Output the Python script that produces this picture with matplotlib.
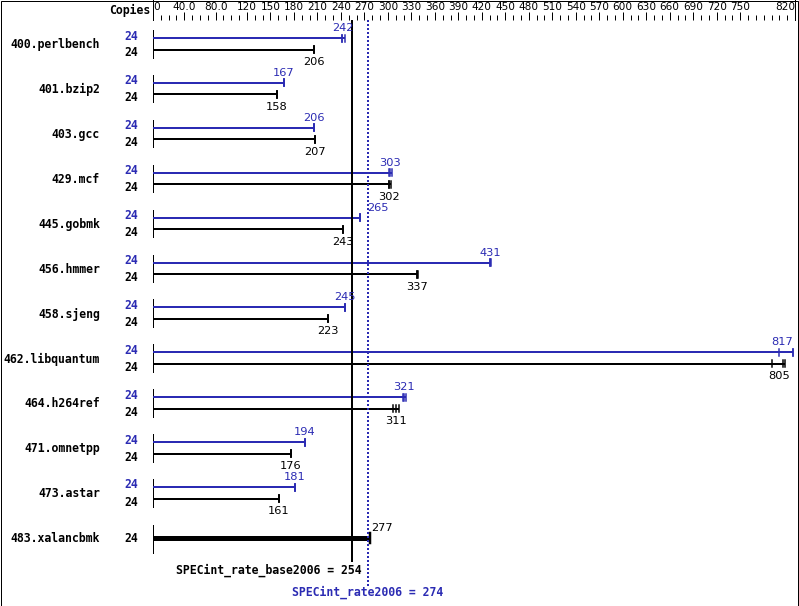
import matplotlib
matplotlib.use('Agg')
import matplotlib.pyplot as plt
from matplotlib.patches import Rectangle
from matplotlib.transforms import blended_transform_factory

# benchmark data (SPECint_rate2006, 24 copies)
benchmarks = ['400.perlbench', '401.bzip2', '403.gcc', '429.mcf', '445.gobmk', '456.hmmer',
              '458.sjeng', '462.libquantum', '464.h264ref', '471.omnetpp', '473.astar',
              '483.xalancbmk']
copies = [24, 24, 24, 24, 24, 24, 24, 24, 24, 24, 24, 24]
peak = [242, 167, 206, 303, 265, 431, 245, 817, 321, 194, 181, None]
base = [206, 158, 207, 302, 243, 337, 223, 805, 311, 176, 161, 277]
# individual runs (ticks on the bars)
peak_runs = [[242, 242, 245], [167, 167, 167], [206, 206, 206], [301, 303, 305],
             [265, 265, 265], [430, 431, 432], [245, 245, 245], [800, 817, 818],
             [319, 321, 323], [194, 194, 194], [181, 181, 181], None]
base_runs = [[206, 206, 206], [158, 158, 158], [207, 207, 207], [301, 302, 304],
             [243, 243, 243], [337, 337, 339], [223, 223, 223], [790, 805, 807],
             [307, 311, 314], [176, 176, 176], [161, 161, 161], [277, 277, 277]]
base_mean = 254
peak_mean = 274

tick_vals = [0, 40, 80, 120, 150, 180, 210, 240, 270, 300, 330, 360, 390, 420, 450, 480,
             510, 540, 570, 600, 630, 660, 690, 720, 750, 820]
tick_labels = ['0', '40.0', '80.0', '120', '150', '180', '210', '240', '270', '300', '330',
               '360', '390', '420', '450', '480', '510', '540', '570', '600', '630', '660',
               '690', '720', '750', '820']
minor_vals = list(range(0, 821, 10))

BLUE = '#2b2bb3'
W, H = 799, 606
PX = 72.0 / 100  # one pixel in points

fig = plt.figure(figsize=(W / 100, H / 100), dpi=100)
ax = fig.add_axes([153 / W, 0, 642 / W, (H - 20) / H])
ax.set_xlim(0, 820)
ax.set_ylim(H, 20)   # y in pixels from top
for s in ax.spines.values():
    s.set_visible(False)
ax.set_yticks([])

ax.xaxis.set_ticks_position('top')
ax.set_xticks(tick_vals)
ax.set_xticklabels(tick_labels, fontsize=7.6, family='DejaVu Sans')
ax.set_xticks(minor_vals, minor=True)
ax.tick_params(axis='x', which='major', length=6, width=PX, direction='out', pad=0)
ax.tick_params(axis='x', which='minor', length=3.5, width=PX, direction='out')
labs = ax.get_xticklabels()
labs[0].set_ha('left')
labs[-1].set_ha('right')

# top axis end lines
ax.plot([0, 0], [0, 20], color='black', lw=PX, clip_on=False)
ax.plot([820, 820], [0, 20], color='black', lw=PX, clip_on=False)

trans = blended_transform_factory(fig.transFigure, ax.transData)
mono = dict(family='DejaVu Sans Mono', weight='bold', fontsize=8.3)
fig.text(150 / W, 1 - 14 / H, 'Copies', ha='right', va='baseline', **mono)

row0, step, dy = 38, 44.9, 11.5
vsize = 8.2


def draw_bar(y, runs, color, lw):
    ax.plot([0, max(runs)], [y, y], color=color, lw=lw, solid_capstyle='butt')
    for r in runs:
        ax.plot([r, r], [y - 3.5, y + 3.5], color=color, lw=1.5 * PX)


for i, name in enumerate(benchmarks):
    yp = row0 + step * i
    yb = yp + dy
    if peak[i] is None:
        y = (yp + yb) / 2
        ax.text(100 / W, y + 4.5, name, transform=trans, ha='right', va='baseline', **mono)
        ax.text(131 / W, y + 4.5, str(copies[i]), transform=trans, ha='center',
                va='baseline', **mono)
        ax.plot([0, 0], [y - 13, y + 15], color='black', lw=PX)
        draw_bar(y, base_runs[i], 'black', 5 * PX)
        ax.plot([base[i]] * 2, [y - 5, y + 5], color='black', lw=2.5 * PX)
        ax.annotate(str(base[i]), (base[i], y - 6.5), xytext=(1, 0), textcoords='offset pixels',
                    ha='left', va='baseline', fontsize=vsize, color='black')
        continue
    mid = (yp + yb) / 2
    ax.text(100 / W, mid + 4.5, name, transform=trans, ha='right', va='baseline', **mono)
    ax.text(131 / W, yp + 1.5, str(copies[i]), transform=trans, ha='center', va='baseline',
            color=BLUE, **mono)
    ax.text(131 / W, yb + 7, str(copies[i]), transform=trans, ha='center', va='baseline',
            **mono)
    ax.plot([0, 0], [yp - 8, yb + 8], color='black', lw=PX)
    draw_bar(yp, peak_runs[i], BLUE, 2 * PX)
    draw_bar(yb, base_runs[i], 'black', 2 * PX)

    # value labels
    px_, ha_p, off_p = peak[i], 'center', 0
    bx_, ha_b, off_b = base[i], 'center', 0
    if name == '445.gobmk':
        off_p = 17
    if name == '462.libquantum':
        px_, ha_p, off_p = 820, 'right', -2
        bx_, ha_b, off_b = 820, 'right', -5
    ax.annotate(str(peak[i]), (px_, yp - 7), xytext=(off_p, 0), textcoords='offset pixels',
                ha=ha_p, va='baseline', fontsize=vsize, color=BLUE)
    ax.annotate(str(base[i]), (bx_, yb + 15.5), xytext=(off_b, 0), textcoords='offset pixels',
                ha=ha_b, va='baseline', fontsize=vsize, color='black')

# mean lines
ax.plot([base_mean, base_mean], [20, 561], color='black', lw=2 * PX)
ax.plot([peak_mean, peak_mean], [20, 586], color=BLUE, lw=2 * PX, linestyle=(0, (1, 1)))
ax.annotate('SPECint_rate_base2006 = %d' % base_mean, (base_mean, 574), xytext=(10, 0),
            textcoords='offset pixels', ha='right', va='baseline', **mono)
ax.annotate('SPECint_rate2006 = %d' % peak_mean, (peak_mean, 596), ha='center',
            va='baseline', color=BLUE, **mono)

fig.patches.append(Rectangle((0.5 / W, 0.5 / H), 1 - 1.5 / W, 1 - 1.5 / H,
                             transform=fig.transFigure, fill=False, ec='black', lw=PX))

fig.savefig('out.png', dpi=100)
